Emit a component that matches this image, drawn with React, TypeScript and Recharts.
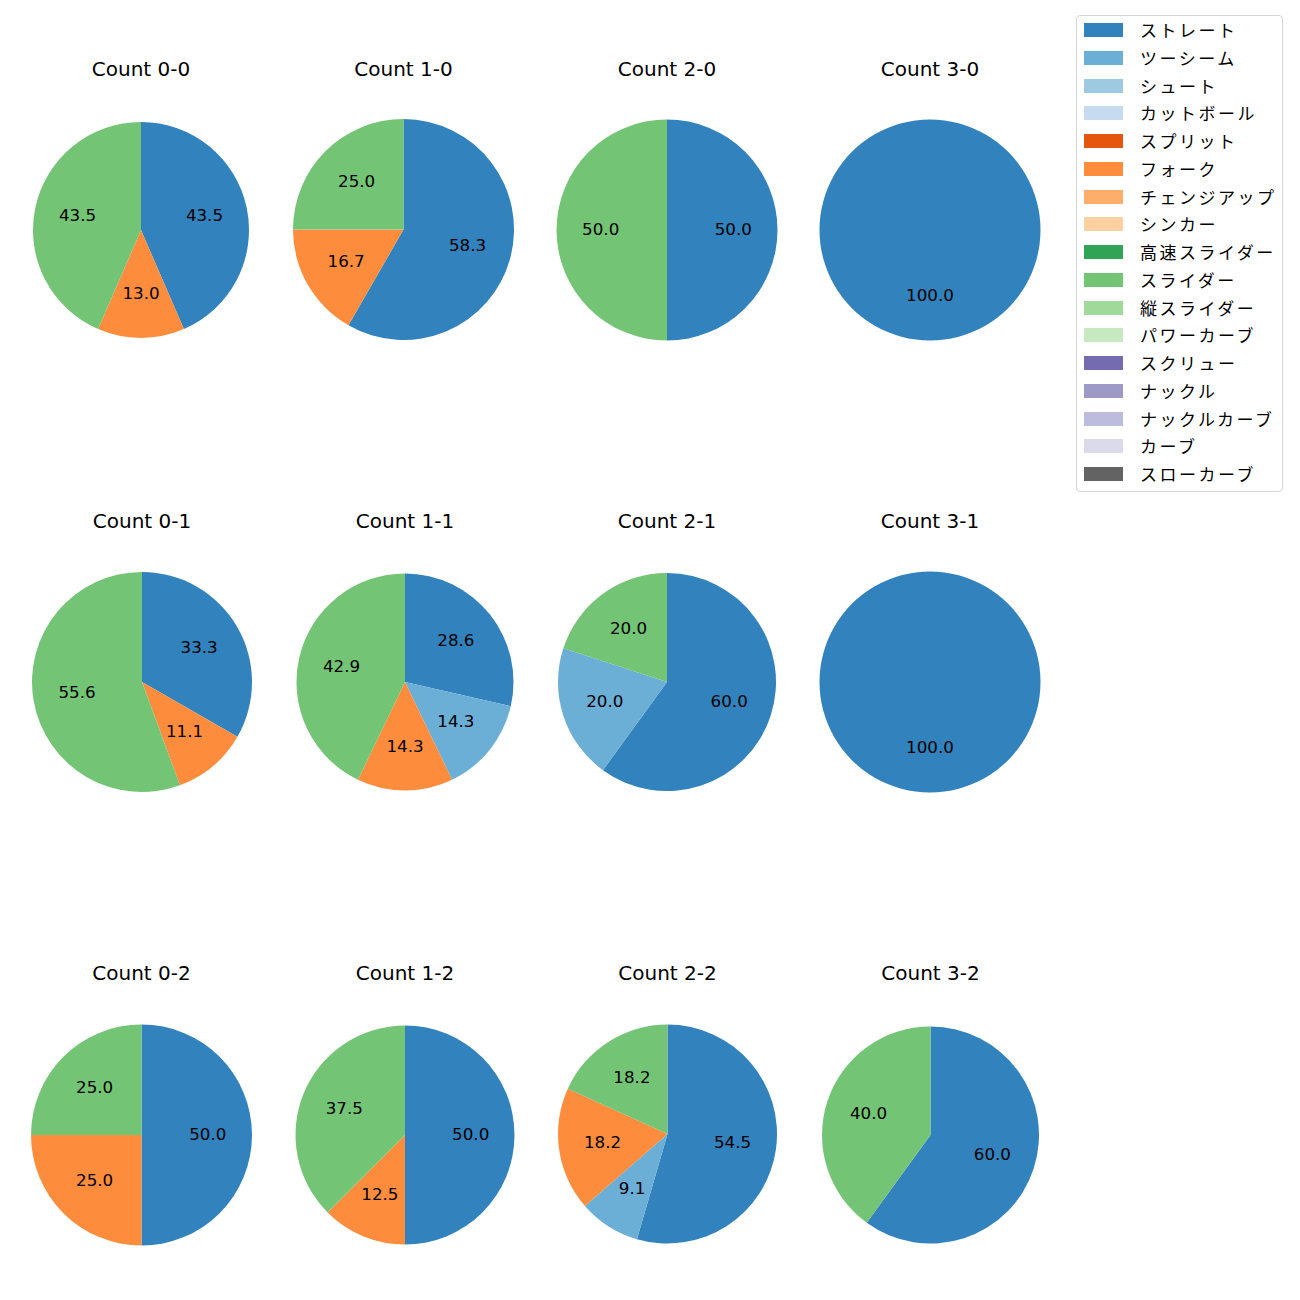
import { PieChart, Pie, Cell } from 'recharts';

const pitchTypes = [
  'ストレート', 'ツーシーム', 'シュート', 'カットボール', 'スプリット', 'フォーク',
  'チェンジアップ', 'シンカー', '高速スライダー', 'スライダー', '縦スライダー',
  'パワーカーブ', 'スクリュー', 'ナックル', 'ナックルカーブ', 'カーブ', 'スローカーブ',
];

const pitchColors = [
  '#3182bd', '#6baed6', '#9ecae1', '#c6dbef', '#e6550d', '#fd8d3c',
  '#fdae6b', '#fdd0a2', '#31a354', '#74c476', '#a1d99b',
  '#c7e9c0', '#756bb1', '#9e9ac8', '#bcbddc', '#dadaeb', '#636363',
];

// share (%) per pitch type, in legend order, one list per count
const count0_0 = [{ pitch: 'ストレート', value: 43.5 }, { pitch: 'フォーク', value: 13.0 }, { pitch: 'スライダー', value: 43.5 }];
const count1_0 = [{ pitch: 'ストレート', value: 58.3 }, { pitch: 'フォーク', value: 16.7 }, { pitch: 'スライダー', value: 25.0 }];
const count2_0 = [{ pitch: 'ストレート', value: 50.0 }, { pitch: 'スライダー', value: 50.0 }];
const count3_0 = [{ pitch: 'ストレート', value: 100.0 }];
const count0_1 = [{ pitch: 'ストレート', value: 33.3 }, { pitch: 'フォーク', value: 11.1 }, { pitch: 'スライダー', value: 55.6 }];
const count1_1 = [{ pitch: 'ストレート', value: 28.6 }, { pitch: 'ツーシーム', value: 14.3 }, { pitch: 'フォーク', value: 14.3 }, { pitch: 'スライダー', value: 42.9 }];
const count2_1 = [{ pitch: 'ストレート', value: 60.0 }, { pitch: 'ツーシーム', value: 20.0 }, { pitch: 'スライダー', value: 20.0 }];
const count3_1 = [{ pitch: 'ストレート', value: 100.0 }];
const count0_2 = [{ pitch: 'ストレート', value: 50.0 }, { pitch: 'フォーク', value: 25.0 }, { pitch: 'スライダー', value: 25.0 }];
const count1_2 = [{ pitch: 'ストレート', value: 50.0 }, { pitch: 'フォーク', value: 12.5 }, { pitch: 'スライダー', value: 37.5 }];
const count2_2 = [{ pitch: 'ストレート', value: 54.5 }, { pitch: 'ツーシーム', value: 9.1 }, { pitch: 'フォーク', value: 18.2 }, { pitch: 'スライダー', value: 18.2 }];
const count3_2 = [{ pitch: 'ストレート', value: 60.0 }, { pitch: 'スライダー', value: 40.0 }];

const panels = [
  { title: 'Count 0-0', data: count0_0, cx: 141, cy: 230, r: 108 },
  { title: 'Count 1-0', data: count1_0, cx: 403.5, cy: 229.5, r: 110.5 },
  { title: 'Count 2-0', data: count2_0, cx: 667, cy: 230, r: 110.5 },
  { title: 'Count 3-0', data: count3_0, cx: 930, cy: 230, r: 110.5 },
  { title: 'Count 0-1', data: count0_1, cx: 142, cy: 682, r: 110 },
  { title: 'Count 1-1', data: count1_1, cx: 405, cy: 682, r: 108.5 },
  { title: 'Count 2-1', data: count2_1, cx: 667, cy: 682, r: 109 },
  { title: 'Count 3-1', data: count3_1, cx: 930, cy: 682, r: 110.5 },
  { title: 'Count 0-2', data: count0_2, cx: 141.5, cy: 1135, r: 110.5 },
  { title: 'Count 1-2', data: count1_2, cx: 405, cy: 1135, r: 109.5 },
  { title: 'Count 2-2', data: count2_2, cx: 667.5, cy: 1134, r: 109.5 },
  { title: 'Count 3-2', data: count3_2, cx: 930.5, cy: 1135, r: 108.5 },
];

const titleY = [69, 521, 973];
const LATIN = '"DejaVu Sans", sans-serif';
const JP = '"Noto Sans CJK JP", sans-serif';
const RAD = Math.PI / 180;

const colorOf = (pitch: string) => pitchColors[pitchTypes.indexOf(pitch)];

const renderLabel = (props: any) => {
  const { cx, cy, midAngle, outerRadius, value } = props;
  const d = outerRadius * 0.6;
  const x = cx + d * Math.cos(-midAngle * RAD);
  const y = cy + d * Math.sin(-midAngle * RAD);
  return (
    <text x={x} y={y - 1.5} fill="#000" fontSize={16.7} fontFamily={LATIN} textAnchor="middle" dominantBaseline="central">
      {Number(value).toFixed(1)}
    </text>
  );
};

export default function App() {
  return (
    <div style={{ position: 'absolute', left: 0, top: 0, width: 1300, height: 1300, background: '#fff' }}>
      <PieChart width={1300} height={1300} margin={{ top: 0, right: 0, bottom: 0, left: 0 }}>
        {panels.map((p) => (
          <Pie
            key={p.title}
            data={p.data}
            dataKey="value"
            nameKey="pitch"
            cx={p.cx}
            cy={p.cy}
            outerRadius={p.r}
            startAngle={90}
            endAngle={-270}
            stroke="none"
            label={renderLabel}
            labelLine={false}
            isAnimationActive={false}
          >
            {p.data.map((d) => (
              <Cell key={d.pitch} fill={colorOf(d.pitch)} />
            ))}
          </Pie>
        ))}
      </PieChart>

      {panels.map((p, i) => (
        <div
          key={'t' + p.title}
          style={{
            position: 'absolute',
            left: p.cx - 100,
            width: 200,
            top: titleY[Math.floor(i / 4)] - 14,
            height: 28,
            lineHeight: '28px',
            textAlign: 'center',
            fontSize: 20,
            fontFamily: LATIN,
            color: '#000',
          }}
        >
          {p.title}
        </div>
      ))}

      <div
        style={{
          position: 'absolute',
          left: 1076,
          top: 15,
          width: 207,
          height: 477,
          border: '1px solid #d5d5d5',
          borderRadius: 4,
          background: '#fff',
          boxSizing: 'border-box',
        }}
      >
        {pitchTypes.map((name, i) => (
          <div
            key={name}
            style={{ position: 'absolute', left: 0, top: i * 27.75, height: 28, width: 205 }}
          >
            <div style={{ position: 'absolute', left: 7, top: 7, width: 39, height: 14, background: pitchColors[i] }} />
            <div style={{ position: 'absolute', left: 63, top: 0, height: 28, lineHeight: '28px', fontSize: 17, fontFamily: JP, color: '#000', whiteSpace: 'nowrap', letterSpacing: 2.5 }}>
              {name}
            </div>
          </div>
        ))}
      </div>
    </div>
  );
}
